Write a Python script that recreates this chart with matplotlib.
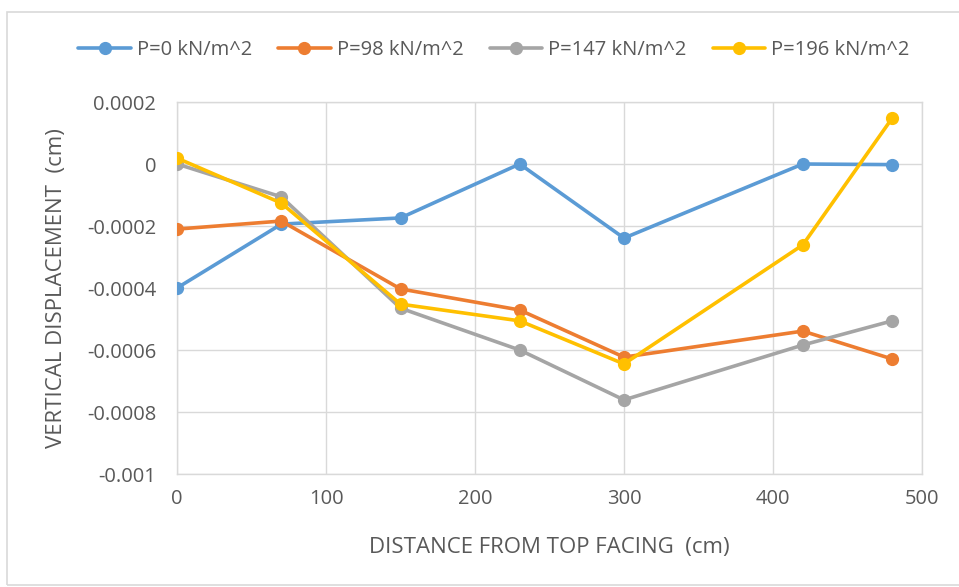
import matplotlib.pyplot as plt
from matplotlib.patches import Rectangle
from matplotlib.ticker import FixedLocator

# data
distance = [0, 70, 150, 230, 300, 420, 480]
p0 = [-0.0004, -0.000194, -0.000174, 0.0, -0.000239, 0.0, -0.000002]
p98 = [-0.00021, -0.000184, -0.000403, -0.000471, -0.000623, -0.000539, -0.000629]
p147 = [0.0, -0.000106, -0.000465, -0.0006, -0.000761, -0.000584, -0.000506]
p196 = [0.000019, -0.000126, -0.000452, -0.000506, -0.000645, -0.000261, 0.000148]
labels = ['P=0 kN/m^2', 'P=98 kN/m^2', 'P=147 kN/m^2', 'P=196 kN/m^2']
colors = ['#5B9BD5', '#ED7D31', '#A5A5A5', '#FFC000']
yticks = [0.0002, 0, -0.0002, -0.0004, -0.0006, -0.0008, -0.001]
ytick_labels = ['0.0002', '0', '-0.0002', '-0.0004', '-0.0006', '-0.0008', '-0.001']
xticks = [0, 100, 200, 300, 400, 500]

plt.rcParams['font.family'] = ['Open Sans', 'DejaVu Sans']

W, H = 959, 587
fig = plt.figure(figsize=(W/100, H/100), dpi=100)
fig.patches.append(Rectangle((7/W, 2/H), 1.2, (H-14)/H, transform=fig.transFigure,
                             fill=False, edgecolor='#D9D9D9', lw=1.2))

ax = fig.add_axes([177/W, 1-474/H, (922-177)/W, (474-102)/H])
for series, lab, c in zip([p0, p98, p147, p196], labels, colors):
    ax.plot(distance, series, color=c, lw=2.6, marker='o', ms=8.5, label=lab,
            solid_capstyle='round', zorder=3)

ax.set_xlim(0, 500)
ax.set_ylim(-0.001, 0.0002)
ax.yaxis.set_major_locator(FixedLocator(yticks))
ax.set_yticklabels(ytick_labels)
ax.set_xticks(xticks)
ax.grid(True, color='#D9D9D9', lw=1)
ax.set_axisbelow(True)
for s in ax.spines.values():
    s.set_color('#D9D9D9')
    s.set_linewidth(1)
ax.tick_params(length=0, labelsize=14.5, colors='#595959')
ax.tick_params(axis='x', pad=11)
ax.tick_params(axis='y', pad=15)

ax.set_xlabel('DISTANCE FROM TOP FACING  (cm)', fontsize=16, color='#595959', labelpad=20)
ax.set_ylabel('VERTICAL DISPLACEMENT  (cm)', fontsize=16, color='#595959', labelpad=14)

fig.legend(loc='center', bbox_to_anchor=(0.515, 1-50/H), ncol=4, frameon=False,
           fontsize=14.5, labelcolor='#595959', handlelength=2.6, columnspacing=1.3,
           handletextpad=0.3)

fig.savefig('out.png', dpi=100)
